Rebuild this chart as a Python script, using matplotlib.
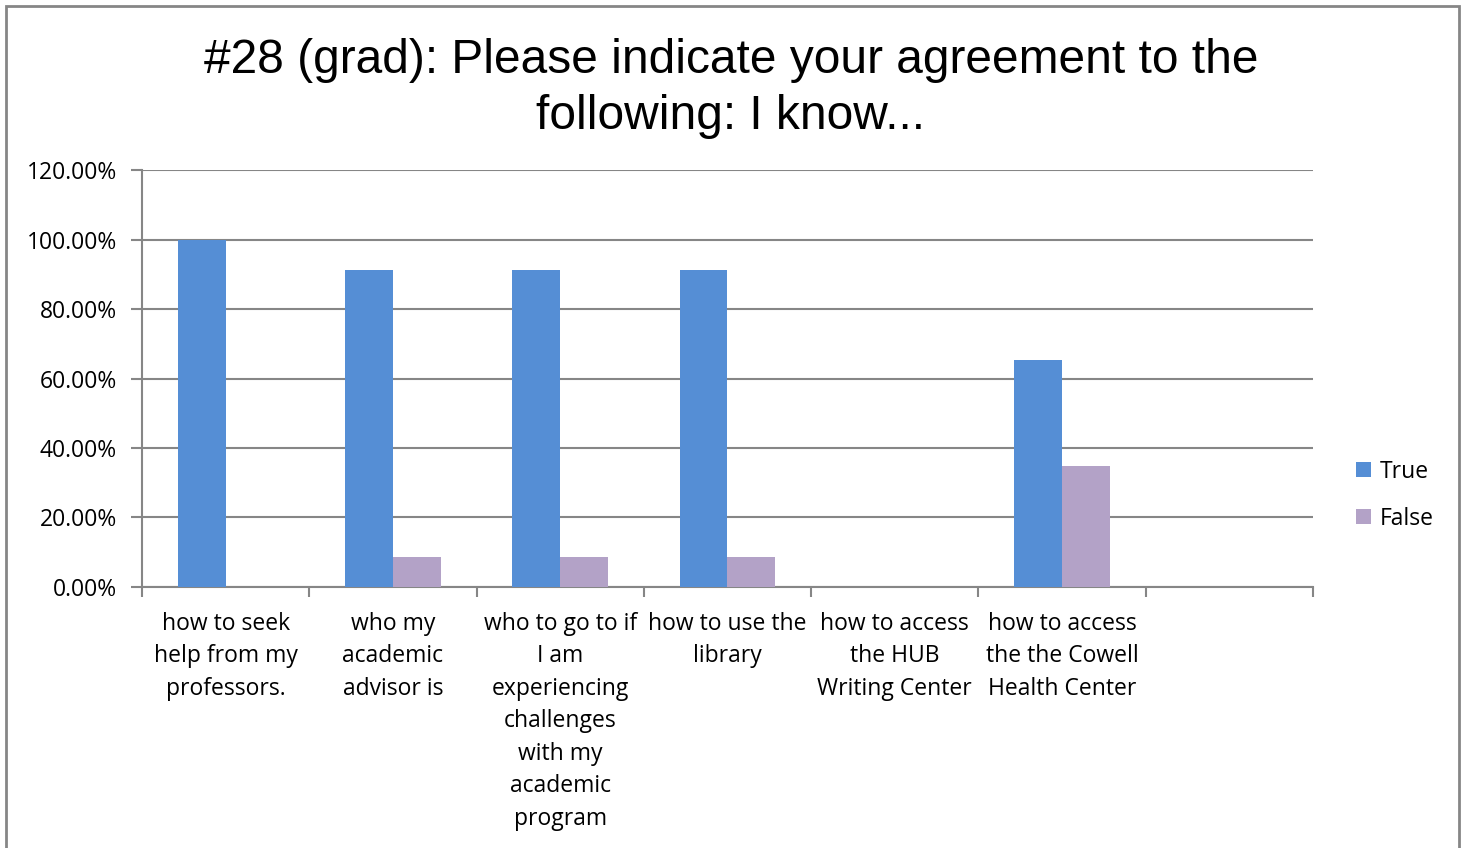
import numpy as np
import matplotlib.pyplot as plt
from matplotlib.patches import Rectangle
from matplotlib.ticker import FuncFormatter, MultipleLocator

# Survey data (share of grad respondents)
categories = [
    "how to seek\nhelp from my\nprofessors.",
    "who my\nacademic\nadvisor is",
    "who to go to if\nI am\nexperiencing\nchallenges\nwith my\nacademic\nprogram",
    "how to use the\nlibrary",
    "how to access\nthe HUB\nWriting Center",
    "how to access\nthe the Cowell\nHealth Center",
    "",
]
true_pct = [100.0, 91.30, 91.30, 91.30, 0.0, 65.22, 0.0]
false_pct = [0.0, 8.70, 8.70, 8.70, 0.0, 34.78, 0.0]

title = "#28 (grad): Please indicate your agreement to the\nfollowing: I know..."

label_font = "Open Sans"
grid_gray = "#868686"

fig = plt.figure(figsize=(14.62, 8.48), dpi=100)
ax = fig.add_axes([0.0971, 0.3078, 0.8010, 0.4917])

x = np.arange(len(categories))
w = 1 / 3.5  # gap width 150%
ax.bar(x - w / 2, true_pct, width=w, color="#558ED5", label="True", zorder=3)
ax.bar(x + w / 2, false_pct, width=w, color="#B3A2C7", label="False", zorder=3)

ax.set_xlim(-0.5, len(categories) - 0.5)
ax.set_ylim(0, 120)
ax.yaxis.set_major_locator(MultipleLocator(20))
ax.yaxis.set_major_formatter(FuncFormatter(lambda v, p: f"{v:.2f}%"))
ax.grid(axis="y", color=grid_gray, linewidth=1.5, zorder=0)

# category boundaries carry the tick marks, labels sit in the middle
ax.set_xticks(np.arange(len(categories) + 1) - 0.5)
ax.set_xticklabels([])
ax.tick_params(axis="x", which="major", length=7, width=1.5, color=grid_gray, direction="out")
ax.set_xticks(x, minor=True)
ax.set_xticklabels(categories, minor=True, fontfamily=label_font, fontsize=16.5,
                   linespacing=1.47, va="top")
ax.tick_params(axis="x", which="minor", length=0, pad=18)
ax.tick_params(axis="y", length=8, width=1.5, color=grid_gray, pad=10, labelsize=16.5)
for lbl in ax.get_yticklabels():
    lbl.set_fontfamily(label_font)

for side in ["top", "right"]:
    ax.spines[side].set_visible(False)
for side in ["left", "bottom"]:
    ax.spines[side].set_color(grid_gray)
    ax.spines[side].set_linewidth(1.5)

leg = ax.legend(loc="center left", bbox_to_anchor=(1.019, 0.22), frameon=False,
                prop={"family": label_font, "size": 16.5}, handlelength=0.65,
                handleheight=0.65, handletextpad=0.4, labelspacing=1.0)

fig.text(0.5, 0.955, title, ha="center", va="top", fontfamily="Liberation Sans",
         fontsize=34.5, linespacing=1.3)

# outer chart-area border
fig.patches.append(Rectangle((6 / 1462, -0.02), 1453 / 1462, 1.0 - 6 / 848 + 0.02,
                             transform=fig.transFigure, fill=False,
                             edgecolor=grid_gray, linewidth=2))

fig.savefig("out.png", dpi=100)
